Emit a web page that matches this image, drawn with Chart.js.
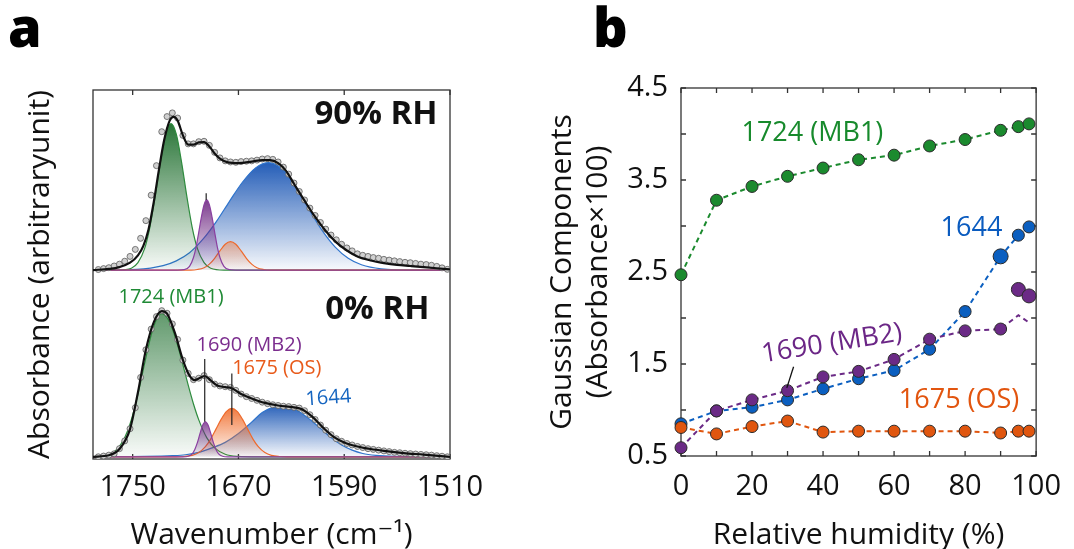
<!DOCTYPE html>
<html lang="en">
<head>
  <meta charset="UTF-8">
  <title>Gaussian components vs humidity</title>
  <script src="https://cdn.jsdelivr.net/npm/chart.js@4.4.1/dist/chart.umd.min.js"></script>
  <style>
    body {
      margin: 0;
      width: 1074px;
      height: 549px;
      position: relative;
      overflow: hidden;
      background: #fff;
      font-family: 'Open Sans', sans-serif;
    }
    .letter {
      position: absolute;
      font-size: 54px;
      font-weight: 800;
      line-height: 1;
      color: #000;
    }
    #chartA { position: absolute; left: 0; top: 0; }
    #chartB { position: absolute; left: 470px; top: 0; }
  </style>
</head>
<body>
  <div class="letter" style="left:8px; top:-1px">a</div>
  <div class="letter" style="left:593px; top:-1px">b</div>
  <canvas id="chartA" width="520" height="549"></canvas>
  <canvas id="chartB" width="604" height="549"></canvas>

  <script>
    // ---------- panel a : spectra (arbitrary units) ----------
    const waveTicks = [1750, 1670, 1590, 1510];
    const waveGrid = [1776, 1772, 1768, 1764, 1760, 1756, 1752, 1748, 1744, 1740, 1736, 1732, 1728, 1724, 1720, 1716, 1712,
      1708, 1704, 1700, 1696, 1692, 1688, 1684, 1680, 1676, 1672, 1668, 1664, 1660, 1656, 1652, 1648, 1644, 1640, 1636,
      1632, 1628, 1624, 1620, 1616, 1612, 1608, 1604, 1600, 1596, 1592, 1588, 1584, 1580, 1576, 1572, 1568, 1564, 1560,
      1556, 1552, 1548, 1544, 1540, 1536, 1532, 1528, 1524, 1520, 1516, 1512];

    // measured spectra (circles)
    const absRH90 = [0.15, 0.4, 0.65, 1.1, 1.6, 2.4, 3.7, 5.6, 8.6, 13.4, 20.3, 28.3, 37.5, 41.6, 42.6, 41.2, 36.5,
      34.2, 34.2, 34.8, 34.9, 33.8, 31.9, 30.4, 29.6, 29.3, 29.2, 29.4, 29.5, 29.6, 29.8, 30.1, 30.2, 30.0, 29.3, 27.9,
      26.0, 23.6, 21.3, 19.0, 16.8, 14.8, 12.9, 11.1, 9.5, 8.2, 7.0, 6.0, 5.2, 4.4, 4.0, 3.7, 3.4, 3.2, 2.9,
      2.7, 2.5, 2.3, 2.1, 2.0, 1.8, 1.6, 1.5, 1.3, 1.0, 0.6, 0.2];
    const absRH0 = [0.0, 0.2, 0.45, 0.8, 2.2, 4.3, 7.6, 13.3, 21.5, 29.0, 34.6, 38.0, 39.6, 38.9, 36.0, 31.8, 26.2,
      22.6, 20.9, 21.3, 22.0, 20.9, 19.7, 19.2, 19.0, 18.8, 18.0, 17.0, 16.3, 15.8, 15.3, 14.8, 14.4, 14.1, 13.9, 13.7,
      13.6, 13.4, 13.2, 12.5, 11.4, 10.1, 8.6, 7.2, 6.0, 4.9, 4.2, 3.6, 3.2, 2.8, 2.5, 2.2, 2.0, 1.8, 1.6,
      1.4, 1.2, 1.1, 0.95, 0.85, 0.75, 0.65, 0.55, 0.45, 0.3, 0.15, 0.0];

    // fitted envelopes (black lines)
    const fitWn90 = [1780, 1768, 1760, 1752, 1746, 1742, 1738, 1734, 1730, 1726, 1722, 1719, 1716, 1712, 1708, 1704, 1700,
      1696, 1692, 1688, 1684, 1678, 1670, 1660, 1652, 1646, 1640, 1634, 1628, 1620, 1612, 1604, 1596, 1588, 1580, 1570,
      1560, 1550, 1540, 1530, 1520, 1510];
    const fit90 = [0, 0.3, 0.8, 2.0, 4.0, 6.5, 11.0, 18.5, 27.5, 35.5, 40.5, 41.5, 40.5, 36.5, 34.0, 34.0, 34.6,
      34.7, 33.5, 31.6, 30.2, 29.2, 29.0, 29.4, 29.8, 29.8, 29.0, 26.9, 23.4, 18.8, 14.4, 10.6, 7.5, 5.3, 3.7, 2.6,
      1.9, 1.4, 1.1, 0.8, 0.5, 0.2];
    const fitWn0 = [1780, 1768, 1760, 1752, 1746, 1740, 1734, 1728, 1724, 1718, 1712, 1707, 1703, 1699, 1695.5, 1691,
      1686, 1680, 1675, 1668, 1660, 1650, 1640, 1628, 1622, 1614, 1606, 1598, 1590, 1580, 1570, 1560, 1545, 1530, 1510];
    const fit0 = [0, 0.4, 2.1, 7.5, 17.5, 29.0, 36.5, 39.5, 38.8, 33.5, 26.2, 22.0, 20.8, 21.4, 21.9, 20.7,
      19.3, 18.9, 18.6, 17.0, 15.8, 14.6, 13.9, 13.4, 12.9, 10.8, 7.9, 5.4, 3.9, 2.8, 2.1, 1.6, 1.0, 0.6, 0];

    // gaussian components, 90% RH
    const mb1Wn90 = [1780, 1761, 1751, 1746, 1741, 1737, 1733, 1729, 1725, 1721, 1717, 1713, 1709, 1705, 1701, 1696, 1691, 1681, 1510];
    const mb1Abs90 = [0, 0, 0.5, 2.0, 5.8, 11.6, 19.9, 29.2, 36.8, 39.7, 36.8, 29.2, 19.9, 11.6, 5.8, 2.0, 0.5, 0, 0];
    const mb2Wn90 = [1780, 1716, 1711, 1707, 1704, 1702, 1700, 1698, 1696, 1694, 1692, 1690, 1688, 1686, 1684, 1681, 1677, 1672, 1510];
    const mb2Abs90 = [0, 0, 0.1, 1.0, 3.4, 6.3, 10.3, 14.4, 17.7, 19.0, 17.7, 14.4, 10.3, 6.3, 3.4, 1.0, 0.1, 0, 0];
    const osWn90 = [1780, 1706, 1701, 1696, 1692, 1688, 1684, 1680, 1676, 1672, 1668, 1664, 1660, 1656, 1651, 1646, 1510];
    const osAbs90 = [0, 0, 0.16, 0.65, 1.6, 3.2, 5.2, 7.0, 7.7, 7.0, 5.2, 3.2, 1.6, 0.65, 0.16, 0, 0];
    const b1644Wn90 = [1780, 1747, 1727, 1717, 1707, 1697, 1687, 1677, 1667, 1657, 1647, 1637, 1627, 1617, 1607, 1597,
      1587, 1577, 1562, 1537, 1510];
    const b1644Abs90 = [0, 0.2, 1.2, 2.5, 4.7, 8.3, 13.0, 18.5, 23.8, 27.7, 29.1, 27.4, 22.8, 16.7, 10.9, 6.3,
      3.2, 1.45, 0.34, 0, 0];

    // gaussian components, 0% RH
    const mb1Wn0 = [1780, 1770, 1762, 1756, 1752, 1748, 1744, 1740, 1736, 1732, 1728, 1724, 1720, 1716, 1712, 1708,
      1704, 1700, 1694, 1688, 1680, 1670, 1660, 1510];
    const mb1Abs0 = [0, 0.4, 2.0, 5.2, 8.9, 14.0, 20.2, 26.9, 33.0, 37.2, 38.8, 37.7, 34.7, 30.2, 24.9, 19.4,
      14.3, 10.0, 5.2, 2.4, 0.7, 0.1, 0, 0];
    const mb2Wn0 = [1780, 1712, 1708, 1705, 1703, 1701, 1699, 1697, 1695, 1693, 1691, 1689, 1687, 1685, 1682, 1678, 1510];
    const mb2Abs0 = [0, 0, 0.15, 0.8, 2.0, 3.9, 6.4, 8.6, 9.5, 8.6, 6.4, 3.9, 2.0, 0.8, 0.15, 0, 0];
    const osWn0 = [1780, 1717, 1711, 1705, 1700, 1695, 1691, 1687, 1683, 1679, 1675, 1671, 1667, 1663, 1659, 1655,
      1650, 1645, 1639, 1633, 1510];
    const osAbs0 = [0, 0, 0.08, 0.39, 1.14, 2.75, 4.8, 7.5, 10.2, 12.3, 13.1, 12.3, 10.2, 7.5, 4.8, 2.75,
      1.14, 0.39, 0.08, 0, 0];
    const b1644Wn0 = [1780, 1740, 1720, 1710, 1700, 1690, 1680, 1670, 1660, 1652, 1645, 1639, 1632, 1624, 1616, 1608,
      1600, 1592, 1584, 1576, 1566, 1550, 1530, 1510];
    const b1644Abs0 = [0, 0.1, 0.3, 0.55, 1.2, 2.4, 3.9, 6.3, 9.4, 12.0, 13.3, 13.6, 13.4, 12.2, 10.1, 7.7,
      5.2, 3.2, 1.8, 0.9, 0.4, 0.1, 0, 0];

    // peak marker lines (wavenumber, lower and upper end)
    const markWn90 = [1694.4];
    const markLow90 = [19.0];
    const markHigh90 = [20.8];
    const markWn0 = [1695.5, 1675];
    const markLow0 = [9.5, 8.6];
    const markHigh0 = [26.5, 22.6];

    // ---------- panel b : component areas vs relative humidity ----------
    const humidityTicks = [0, 10, 20, 30, 40, 50, 60, 70, 80, 90, 100];
    const gaussTicks = [0.5, 1.0, 1.5, 2.0, 2.5, 3.0, 3.5, 4.0, 4.5];
    const rh = [0, 10, 20, 30, 40, 50, 60, 70, 80, 90, 95, 98];
    const mb1 = [2.47, 3.28, 3.43, 3.54, 3.63, 3.72, 3.77, 3.87, 3.94, 4.04, 4.08, 4.11];
    const b1644 = [0.85, 0.99, 1.03, 1.11, 1.23, 1.34, 1.43, 1.66, 2.07, 2.67, 2.90, 2.99];
    const mb2Trend = [0.59, 0.99, 1.11, 1.21, 1.36, 1.42, 1.55, 1.77, 1.86, 1.88, 2.03, 1.95];
    const mb2High = [null, null, null, null, null, null, null, null, null, null, 2.31, 2.24];
    const os1675 = [0.81, 0.74, 0.82, 0.88, 0.76, 0.77, 0.77, 0.77, 0.77, 0.75, 0.77, 0.77];

    // ---------- layout / style ----------
    const base90 = 51.2;   // vertical offset of the 90% RH trace
    const base0 = 0.6;
    const FONT = "'Open Sans', 'DejaVu Sans', sans-serif";

    Chart.defaults.font.family = FONT;
    Chart.defaults.color = '#111';

    const pts = (xs, ys, off) => xs.map((x, i) => ({ x: x, y: ys[i] == null ? null : ys[i] + (off || 0) }));

    // frame with inward ticks
    const framePlugin = {
      id: 'frame',
      beforeDatasetsDraw(chart, args, opts) {
        const { ctx, chartArea: a, scales } = chart;
        const len = 5;
        ctx.save();
        ctx.strokeStyle = '#333';
        ctx.lineWidth = 1.3;
        ctx.strokeRect(a.left, a.top, a.right - a.left, a.bottom - a.top);
        ctx.beginPath();
        if (opts.xTicks) {
          scales.x.ticks.forEach(t => {
            const px = scales.x.getPixelForValue(t.value);
            ctx.moveTo(px, a.bottom); ctx.lineTo(px, a.bottom - len);
            ctx.moveTo(px, a.top); ctx.lineTo(px, a.top + len);
          });
        }
        if (opts.yTicks) {
          scales.y.ticks.forEach(t => {
            const py = scales.y.getPixelForValue(t.value);
            ctx.moveTo(a.left, py); ctx.lineTo(a.left + len, py);
            ctx.moveTo(a.right, py); ctx.lineTo(a.right - len, py);
          });
        }
        ctx.stroke();
        ctx.restore();
      }
    };

    // text labels placed in data coordinates
    const notesPlugin = {
      id: 'notes',
      afterDraw(chart, args, opts) {
        const { ctx, scales } = chart;
        ctx.save();
        (opts.items || []).forEach(n => {
          if (n.line) {
            ctx.strokeStyle = n.color;
            ctx.lineWidth = 1.3;
            ctx.beginPath();
            ctx.moveTo(scales.x.getPixelForValue(n.line[0]), scales.y.getPixelForValue(n.line[1]));
            ctx.lineTo(scales.x.getPixelForValue(n.line[2]), scales.y.getPixelForValue(n.line[3]));
            ctx.stroke();
            return;
          }
          const px = scales.x.getPixelForValue(n.x);
          const py = scales.y.getPixelForValue(n.y);
          ctx.save();
          ctx.translate(px, py);
          ctx.rotate((n.rot || 0) * Math.PI / 180);
          ctx.font = `${n.bold ? 'bold ' : ''}${n.size}px ${FONT}`;
          ctx.fillStyle = n.color;
          ctx.textAlign = 'center';
          ctx.textBaseline = 'middle';
          ctx.fillText(n.text, 0, 0);
          ctx.restore();
        });
        ctx.restore();
      }
    };

    function fade(rgb, peak, off, a0) {
      return (c) => {
        const chart = c.chart;
        if (!chart.chartArea) return `rgba(${rgb},0.3)`;
        const y = chart.scales.y;
        const g = chart.ctx.createLinearGradient(0, y.getPixelForValue(off + peak), 0, y.getPixelForValue(off));
        g.addColorStop(0, `rgba(${rgb},${a0})`);
        g.addColorStop(1, `rgba(${rgb},0.03)`);
        return g;
      };
    }

    function component(xs, ys, off, line, rgb, a0, order) {
      return {
        data: pts(xs, ys, off),
        borderColor: line,
        borderWidth: 1.2,
        pointRadius: 0,
        cubicInterpolationMode: 'monotone',
        fill: { value: off },
        backgroundColor: fade(rgb, Math.max(...ys), off, a0),
        order: order
      };
    }

    function marks(xs, lo, hi, off) {
      return xs.map((x, i) => ({
        data: [{ x: x, y: lo[i] + off }, { x: x, y: hi[i] + off }],
        borderColor: '#222',
        borderWidth: 1.2,
        pointRadius: 0,
        order: 0
      }));
    }

    const GREEN = '#2e8b3e', BLUE = '#2f74cc', PURPLE = '#8a3fa0', ORANGE = '#ee6a2c';

    const dataA = [
      { data: pts(fitWn90, fit90, base90), borderColor: '#111', borderWidth: 2.2, pointRadius: 0,
        cubicInterpolationMode: 'monotone', order: 1 },
      { data: pts(fitWn0, fit0, base0), borderColor: '#111', borderWidth: 2.2, pointRadius: 0,
        cubicInterpolationMode: 'monotone', order: 1 },
      { data: pts(waveGrid, absRH90, base90), showLine: false, pointRadius: 3, pointBackgroundColor: '#d0d0d0',
        pointBorderColor: '#5c5c5c', pointBorderWidth: 0.8, order: 2 },
      { data: pts(waveGrid, absRH0, base0), showLine: false, pointRadius: 3, pointBackgroundColor: '#d0d0d0',
        pointBorderColor: '#5c5c5c', pointBorderWidth: 0.8, order: 2 },
      component(mb2Wn90, mb2Abs90, base90, PURPLE, '110,40,130', 0.9, 3),
      component(osWn90, osAbs90, base90, ORANGE, '240,120,60', 0.5, 4),
      component(mb1Wn90, mb1Abs90, base90, GREEN, '30,110,45', 0.95, 5),
      component(b1644Wn90, b1644Abs90, base90, BLUE, '25,85,180', 0.95, 6),
      component(mb2Wn0, mb2Abs0, base0, PURPLE, '110,40,130', 0.8, 3),
      component(osWn0, osAbs0, base0, ORANGE, '240,110,45', 0.9, 4),
      component(mb1Wn0, mb1Abs0, base0, GREEN, '45,120,60', 0.75, 5),
      component(b1644Wn0, b1644Abs0, base0, BLUE, '25,85,180', 0.9, 6),
      ...marks(markWn90, markLow90, markHigh90, base90),
      ...marks(markWn0, markLow0, markHigh0, base0)
    ];

    new Chart(document.getElementById('chartA'), {
      type: 'line',
      data: { datasets: dataA },
      options: {
        responsive: false,
        animation: false,
        events: [],
        layout: { padding: { left: 22, right: 70, top: 90, bottom: 0 } },
        plugins: {
          legend: { display: false },
          tooltip: { enabled: false },
          frame: { xTicks: true, yTicks: false },
          notes: {
            items: [
              { text: '90% RH', x: 1566, y: 93.4, size: 33, bold: true, color: '#111' },
              { text: '0% RH', x: 1565, y: 40.6, size: 33, bold: true, color: '#111' },
              { text: '1724 (MB1)', x: 1721, y: 43.9, size: 20, color: '#1f8a35' },
              { text: '1690 (MB2)', x: 1662, y: 30.9, size: 20, color: '#7b2d8e' },
              { text: '1675 (OS)', x: 1641, y: 24.7, size: 20, color: '#e85a1a' },
              { text: '1644', x: 1602, y: 16.5, size: 20, color: '#1565c0', rot: -4 }
            ]
          }
        },
        scales: {
          x: {
            type: 'linear', reverse: true, min: 1510, max: 1780,
            afterBuildTicks: s => { s.ticks = waveTicks.map(v => ({ value: v })); },
            afterFit: s => { s.height = 90; },
            grid: { display: false, drawTicks: false },
            border: { display: false },
            ticks: { padding: 11, font: { size: 29 }, maxRotation: 0, autoSkip: false, callback: v => String(v) },
            title: { display: true, text: 'Wavenumber (cm⁻¹)', font: { size: 30 }, padding: { top: 0, bottom: -4 } }
          },
          y: {
            min: 0, max: 100,
            afterFit: s => { s.width = 71; },
            grid: { display: false, drawTicks: false },
            border: { display: false },
            ticks: { display: false },
            title: { display: true, text: 'Absorbance (arbitraryunit)', font: { size: 30 }, padding: 0 }
          }
        }
      },
      plugins: [framePlugin, notesPlugin]
    });

    // ---------- panel b chart ----------
    const C_GREEN = '#1b8a2e', C_BLUE = '#0b5fc0', C_PURPLE = '#6b2a86', C_ORANGE = '#e0560f';
    const dot = { pointBorderColor: '#2a2a2a', pointBorderWidth: 1, borderWidth: 2, borderDash: [5, 4], clip: false };

    new Chart(document.getElementById('chartB'), {
      type: 'line',
      data: {
        datasets: [
          { ...dot, data: pts(rh, mb1), borderColor: C_GREEN, pointBackgroundColor: C_GREEN, pointRadius: 6, order: 1 },
          { ...dot, data: pts(rh, os1675), borderColor: C_ORANGE, pointBackgroundColor: C_ORANGE, pointRadius: 6, order: 2 },
          { ...dot, data: pts(rh, mb2Trend), borderColor: C_PURPLE, pointBackgroundColor: C_PURPLE,
            pointRadius: rh.map(v => v >= 95 ? 0 : 6), order: 3 },
          { ...dot, data: pts(rh, mb2High), showLine: false, pointBackgroundColor: C_PURPLE, pointRadius: 7, order: 3 },
          { ...dot, data: pts(rh, b1644), borderColor: C_BLUE, pointBackgroundColor: C_BLUE,
            pointRadius: rh.map(v => v === 90 ? 7.5 : 6), order: 4 }
        ]
      },
      options: {
        responsive: false,
        animation: false,
        events: [],
        layout: { padding: { left: 74, right: 25, top: 88, bottom: 0 } },
        plugins: {
          legend: { display: false },
          tooltip: { enabled: false },
          frame: { xTicks: true, yTicks: true },
          notes: {
            items: [
              { text: '1724 (MB1)', x: 37, y: 4.01, size: 27, color: '#178a2c' },
              { text: '1644', x: 81.8, y: 2.98, size: 27, color: '#0a5bbf' },
              { text: '1690 (MB2)', x: 42.5, y: 1.72, size: 27, color: '#6b2686', rot: -9 },
              { text: '1675 (OS)', x: 78.3, y: 1.10, size: 27, color: '#e2550f' },
              { line: [31.7, 1.47, 29.8, 1.24], color: '#111' }
            ]
          }
        },
        scales: {
          x: {
            type: 'linear', min: 0, max: 100,
            afterBuildTicks: s => { s.ticks = humidityTicks.map(v => ({ value: v })); },
            afterFit: s => { s.height = 93; },
            grid: { display: false, drawTicks: false },
            border: { display: false },
            ticks: { padding: 13, font: { size: 29 }, maxRotation: 0, autoSkip: false,
              callback: v => (v % 20 === 0 ? String(v) : '') },
            title: { display: true, text: 'Relative humidity (%)', font: { size: 30 }, padding: { top: 0, bottom: -4 } }
          },
          y: {
            min: 0.5, max: 4.5,
            afterBuildTicks: s => { s.ticks = gaussTicks.map(v => ({ value: v })); },
            afterFit: s => { s.width = 137; },
            grid: { display: false, drawTicks: false },
            border: { display: false },
            ticks: { padding: 13, font: { size: 29 }, autoSkip: false,
              callback: v => (Math.abs(((v - 0.5) % 1)) < 1e-6 ? v.toFixed(1) : '') },
            title: { display: true, text: ['Gaussian Components', '(Absorbance×100)'],
              font: { size: 30, lineHeight: 1.2 }, padding: 0 }
          }
        }
      },
      plugins: [framePlugin, notesPlugin]
    });
  </script>
</body>
</html>
